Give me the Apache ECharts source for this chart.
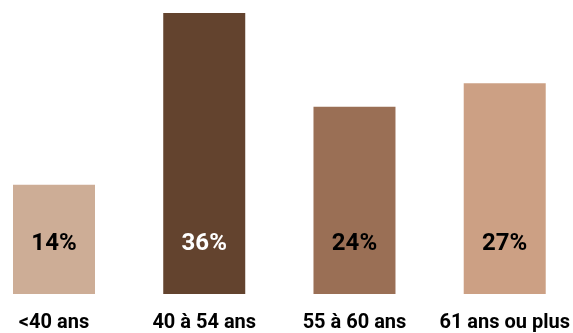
<!DOCTYPE html>
<html><head><meta charset="utf-8">
<script src="https://cdn.jsdelivr.net/npm/echarts@6/dist/echarts.min.js"></script>
<style>html,body{margin:0;padding:0;background:#fff}#c{width:573px;height:333px}</style>
</head><body><div id="c"></div>
<script>
const categories = ['<40 ans', '40 à 54 ans', '55 à 60 ans', '61 ans ou plus'];
const values = [14, 36, 24, 27];
const colors = ['#cdad96', '#63432e', '#9a6f55', '#cca084'];
const labelColors = ['#000000', '#ffffff', '#000000', '#000000'];

const chart = echarts.init(document.getElementById('c'));
chart.setOption({
  animation: false,
  grid: { left: 54, right: 68, top: 13, bottom: 37 },
  xAxis: {
    type: 'category', data: categories, boundaryGap: false,
    axisLine: { show: false }, axisTick: { show: false }, splitLine: { show: false },
    axisLabel: { interval: 0, hideOverlap: false, margin: 19, color: '#000', fontFamily: 'Roboto', fontWeight: 'bold', fontSize: 20, lineHeight: 20 }
  },
  yAxis: { type: 'value', min: 0, max: 36, show: false, splitLine: { show: false } },
  series: [{
    type: 'bar', barWidth: 82, clip: false,
    data: values.map((v, i) => ({
      value: v,
      itemStyle: { color: colors[i] },
      label: { color: labelColors[i] }
    })),
    label: {
      show: true, position: 'insideBottom', distance: 38,
      formatter: '{c}%', fontFamily: 'Roboto', fontWeight: 'bold', fontSize: 24, lineHeight: 24
    }
  }]
});
</script></body></html>
